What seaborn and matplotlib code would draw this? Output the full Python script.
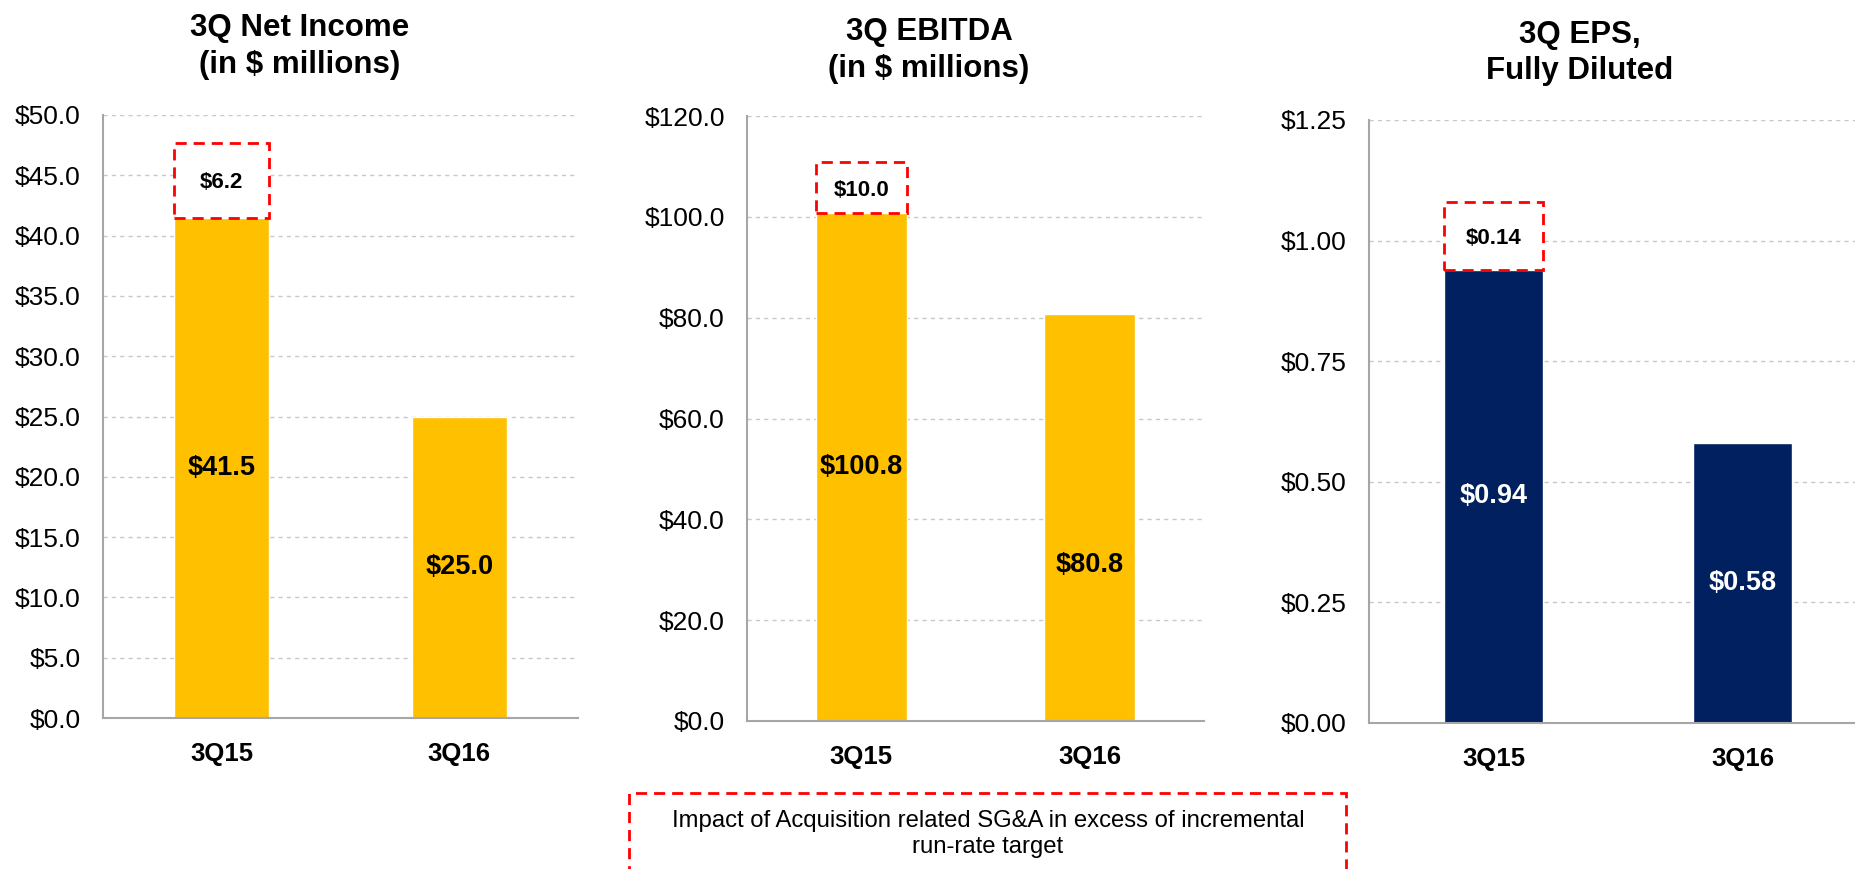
import matplotlib
matplotlib.use('Agg')
import matplotlib.pyplot as plt
from matplotlib.patches import Rectangle
from matplotlib.ticker import FuncFormatter
import seaborn as sns
import pandas as pd

# data
quarters = ['3Q15', '3Q16']
net_income = [41.5, 25.0]
ebitda = [100.8, 80.8]
eps = [0.94, 0.58]
# acquisition related SG&A impact (3Q15 only)
net_income_sga = 6.2
ebitda_sga = 10.0
eps_sga = 0.14

titles = [('3Q Net Income', '(in $ millions)'),
          ('3Q EBITDA', '(in $ millions)'),
          ('3Q EPS,', 'Fully Diluted')]
note = ['Impact of Acquisition related SG&A in excess of incremental',
        'run-rate target']

GOLD = '#FFC000'
NAVY = '#002060'
GRID = '#c8c8c8'
AXIS = '#a6a6a6'
RED = '#ff0000'
DASH = (0, (4, 2.5))

sns.set_style('white')
plt.rcParams['font.family'] = ['Liberation Sans', 'DejaVu Sans']
plt.rcParams['text.color'] = 'black'

W, H = 1856, 869
fig = plt.figure(figsize=(W / 100, H / 100), dpi=100)


def rect(x0, y0, x1, y1):
    # pixel box (top-left origin) -> figure fraction
    return [x0 / W, 1 - y1 / H, (x1 - x0) / W, (y1 - y0) / H]


panels = [
    dict(vals=net_income, extra=net_income_sga, color=GOLD, txt='black', fmt='${:.1f}',
         top=50, step=5, box=rect(103, 115, 578, 718), tx=300, ty=(36, 73), lab_y=None),
    dict(vals=ebitda, extra=ebitda_sga, color=GOLD, txt='black', fmt='${:.1f}',
         top=120, step=20, box=rect(747, 116, 1204, 721), tx=929, ty=(40, 77), lab_y=31),
    dict(vals=eps, extra=eps_sga, color=NAVY, txt='white', fmt='${:.2f}',
         top=1.25, step=0.25, box=rect(1369, 120, 1867, 723), tx=1580, ty=(43, 79), lab_y=None),
]

for p, (t1, t2) in zip(panels, titles):
    ax = fig.add_axes(p['box'])
    df = pd.DataFrame({'quarter': quarters, 'value': p['vals']})
    sns.barplot(data=df, x='quarter', y='value', color=p['color'], saturation=1,
                width=0.4, ax=ax, zorder=2)

    # dashed red box stacked on 3Q15
    ax.bar(0, p['extra'], bottom=p['vals'][0], width=0.4, facecolor='white',
           edgecolor=RED, linestyle=DASH, linewidth=2, zorder=3)
    ax.text(0, p['vals'][0] + p['extra'] / 2, p['fmt'].format(p['extra']),
            ha='center', va='center_baseline', fontsize=16, fontweight='bold',
            color='black', zorder=4)

    # value labels inside bars
    for i, v in enumerate(p['vals']):
        y = v / 2
        if i == 1 and p['lab_y'] is not None:
            y = p['lab_y']
        ax.text(i, y, p['fmt'].format(v), ha='center', va='center',
                fontsize=19.5, fontweight='bold', color=p['txt'], zorder=4)

    n = int(round(p['top'] / p['step']))
    ax.set_ylim(0, p['top'])
    ax.set_yticks([k * p['step'] for k in range(n + 1)])
    ax.yaxis.set_major_formatter(FuncFormatter(lambda v, _, f=p['fmt']: f.format(v)))
    ax.tick_params(axis='y', length=5, width=1, color=AXIS, pad=11,
                   labelsize=19, labelcolor='black')

    ax.set_xlim(-0.5, 1.5)
    ax.set_xticks([0, 1])
    ax.set_xticklabels(quarters, fontweight='bold', fontsize=18.5)
    ax.tick_params(axis='x', which='major', length=0, pad=17, labelcolor='black')
    ax.set_xticks([-0.5, 0.5, 1.5], minor=True)
    ax.tick_params(axis='x', which='minor', length=5, width=1, color=AXIS)
    ax.set_xlabel('')
    ax.set_ylabel('')

    ax.yaxis.grid(True, color=GRID, linestyle=(0, (3, 3)), linewidth=1)
    ax.xaxis.grid(False)
    ax.set_axisbelow(True)
    for s in ['top', 'right']:
        ax.spines[s].set_visible(False)
    for s in ['left', 'bottom']:
        ax.spines[s].set_color(AXIS)
        ax.spines[s].set_linewidth(1.5)

    fig.text(p['tx'] / W, 1 - p['ty'][0] / H, t1, ha='center', va='baseline',
             fontsize=22.5, fontweight='bold')
    fig.text(p['tx'] / W, 1 - p['ty'][1] / H, t2, ha='center', va='baseline',
             fontsize=22.5, fontweight='bold')

# footnote box
fig.add_artist(Rectangle((629 / W, 1 - 900 / H), (1346 - 629) / W, (900 - 793) / H,
                         transform=fig.transFigure, fill=False, edgecolor=RED,
                         linewidth=2, linestyle=DASH))
fig.text(988 / W, 1 - 827 / H, note[0], ha='center', va='baseline', fontsize=17.2)
fig.text(988 / W, 1 - 853 / H, note[1], ha='center', va='baseline', fontsize=17.2)

fig.savefig('out.png', dpi=100)
